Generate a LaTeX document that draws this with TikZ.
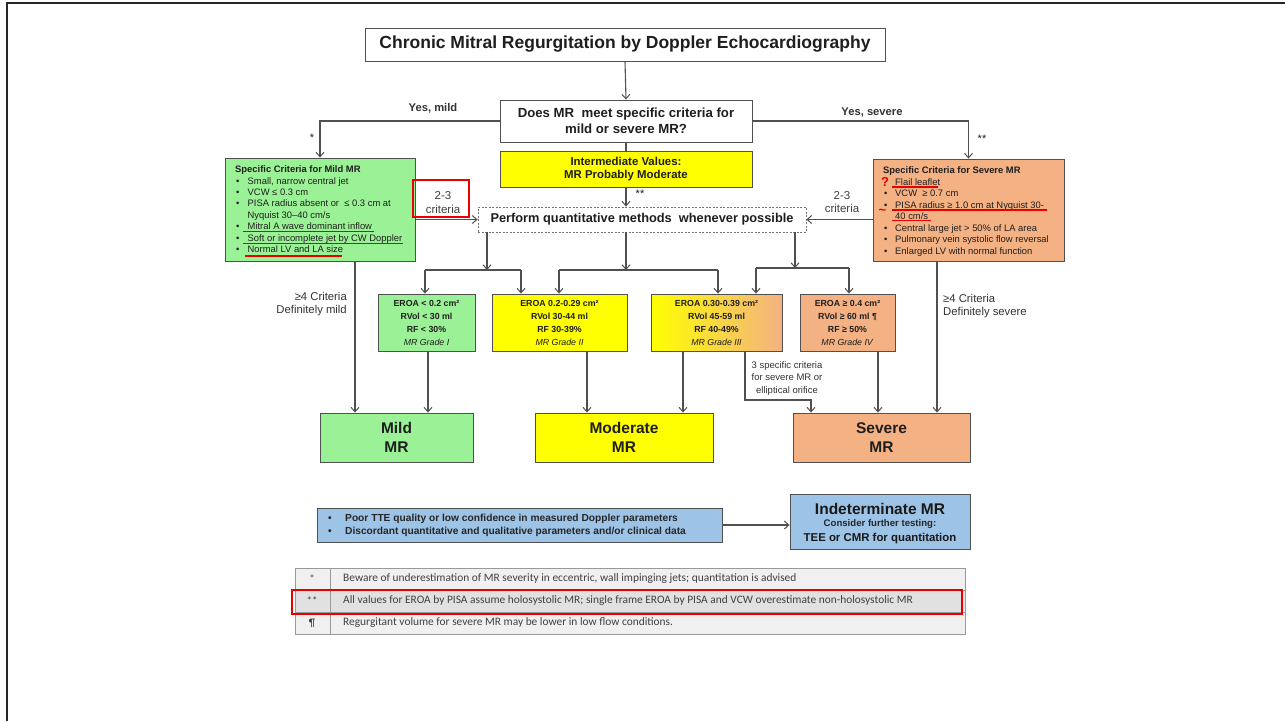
\documentclass[tikz,border=0pt]{standalone}
\usepackage{fontspec}
\setmainfont{Liberation Sans}
\newfontfamily\calib{Carlito}
\usetikzlibrary{arrows.meta,fit,calc}
\definecolor{mildg}{RGB}{155,242,150}
\definecolor{modyel}{RGB}{255,255,0}
\definecolor{sevor}{RGB}{244,177,131}
\definecolor{bluebx}{RGB}{157,195,230}
\definecolor{edge}{RGB}{80,80,80}
\definecolor{ink}{RGB}{30,30,30}
\definecolor{redmark}{RGB}{235,0,0}
\definecolor{tblbg}{RGB}{240,240,240}
\definecolor{tblmid}{RGB}{225,225,225}
\newcommand{\mybul}{\makebox[12.5pt][l]{\hspace{1pt}•}}
\newcommand{\fs}[2]{\fontsize{#1}{#2}\selectfont}
\tikzset{
  box/.style={draw=edge, line width=0.9pt, inner sep=0pt},
  conn/.style={draw=edge, line width=1.1pt},
  arr/.style={conn, -{Straight Barb[length=4.5pt,width=8pt,line width=1pt]}},
  lbl/.style={inner sep=0pt, text=ink},
  ctr/.style={lbl, align=center},
  redline/.style={draw=redmark, line width=1.4pt},
}
\begin{document}
\begin{tikzpicture}[x=1pt,y=-1pt]
\useasboundingbox[fill=white] (0,0) rectangle (1285,721);
% frame
\draw[line width=2.5pt, black!85] (7,721) -- (7,3) -- (1285,3);

% title and question
\node[box, fill=white, fit={(365,28) (885,61)}] (title) {};
\node[ctr, font=\fs{17.5}{20}\bfseries] (titlet) at (title.center) {Chronic Mitral Regurgitation by Doppler Echocardiography};
\node[box, fill=white, fit={(500,100) (752,142)}] (q) {};
\node[ctr, font=\fs{13.2}{16}\bfseries] (qt) at (q.center) {Does MR\ \ meet specific criteria for\\mild or severe MR?};
\node[box, fill=modyel, fit={(500,151) (752,187)}] (inter) {};
\node[ctr, font=\fs{11.4}{13.5}\bfseries] (intert) at (inter.center) {Intermediate Values:\\MR Probably Moderate};
\node[box, draw=edge!80, dash pattern=on 2pt off 1.5pt, fill=white, fit={(478,207) (806,232)}] (perf) {};
\node[ctr, font=\fs{12.8}{14}\bfseries] (perft) at (perf.center) {Perform quantitative methods\ \ whenever possible};

% criteria boxes
\node[box, fill=mildg, fit={(225,158) (415,261)}] (mild) {};
\node[lbl, anchor=north west, align=left, font=\fs{9.4}{11.45}] (mildtxt) at (235,165.6)
 {\textbf{Specific Criteria for Mild MR}\\
  \mybul Small, narrow central jet\\
  \mybul VCW ≤ 0.3 cm\\
  \mybul PISA radius absent or\ \ ≤ 0.3 cm at\\
  \hspace*{12.5pt}Nyquist 30–40 cm/s\\
  \mybul Mitral A wave dominant inflow\\
  \mybul Soft or incomplete jet by CW Doppler\\
  \mybul Normal LV and LA size};
\node[box, fill=sevor, fit={(873,159) (1064,261)}] (sev) {};
\node[lbl, anchor=north west, align=left, font=\fs{9.4}{11.55}] (sevtxt) at (883,166.6)
 {\textbf{Specific Criteria for Severe MR}\\
  \hspace*{12pt}Flail leaflet\\
  \makebox[12pt][l]{\hspace{1pt}•}VCW\ \ ≥ 0.7 cm\\
  \makebox[12pt][l]{\hspace{1pt}•}PISA radius ≥ 1.0 cm at Nyquist 30-\\
  \hspace*{12pt}40 cm/s\\
  \makebox[12pt][l]{\hspace{1pt}•}Central large jet > 50\% of LA area\\
  \makebox[12pt][l]{\hspace{1pt}•}Pulmonary vein systolic flow reversal\\
  \makebox[12pt][l]{\hspace{1pt}•}Enlarged LV with normal function};

% red annotations
\draw[redline] (243,231.5) -- (374,231.5);
\draw[redline] (243,243.3) -- (403,243.3);
\draw[redline] (245,256) -- (342,256);
\draw[redline] (892,187) -- (938,187);
\draw[redline] (892,210) -- (1047,210);
\draw[redline] (892,220.5) -- (931,220.5);
\node[lbl, text=redmark, font=\fs{13}{13}\bfseries] (qmark) at (885,181.5) {?};
\node[lbl, text=redmark, font=\fs{13}{13}\bfseries] (tilde) at (882.5,212) {\textasciitilde};
\node[draw=redmark, line width=2.6pt, fit={(413,180) (469,217)}, inner sep=0pt] (redbox) {};

% labels on top connectors
\node[lbl, font=\fs{11.2}{13}\bfseries, text=black!80] (yesmild) at (433,108) {Yes, mild};
\node[lbl, font=\fs{11.2}{13}\bfseries, text=black!80] (yessev) at (872,113) {Yes, severe};
\node[lbl, font=\fs{11}{11}] (star1) at (312,138) {*};
\node[lbl, font=\fs{11}{11}] (star2) at (982,139) {**};
\node[lbl, font=\fs{11}{11}] (star3) at (640,194) {**};
\node[ctr, font=\fs{11.5}{13.5}, text=black!75] (crit1) at (443,202.5) {2-3\\criteria};
\node[ctr, font=\fs{11.5}{13.5}, text=black!75] (crit2) at (842,202) {2-3\\criteria};

% connectors top
\draw[arr] (title.south) -- (q.north);
\draw[conn] (q.south) -- (inter.north);
\draw[arr] (inter.south) -- (inter.south |- perf.north);
\draw[arr] (q.west) -| (mild.north);
\draw[arr] (q.east) -| (sev.north);
\draw[arr] (mild.east |- perf.west) -- (perf.west);
\draw[arr] (sev.west |- perf.east) -- (perf.east);

% grade boxes
\node[box, fill=mildg, fit={(378,294) (475,351)}] (g1) {};
\node[ctr, font=\fs{8.8}{13}] (g1t) at (g1.center)
 {\textbf{EROA < 0.2 cm²}\\\textbf{RVol < 30 ml}\\\textbf{RF < 30\%}\\\textit{MR Grade I}};
\node[box, fill=modyel, fit={(492,294) (627,351)}] (g2) {};
\node[ctr, font=\fs{8.8}{13}] (g2t) at (g2.center)
 {\textbf{EROA 0.2-0.29 cm²}\\\textbf{RVol 30-44 ml}\\\textbf{RF 30-39\%}\\\textit{MR Grade II}};
\node[box, left color=modyel, right color=sevor, fit={(651,294) (782,351)}] (g3) {};
\node[ctr, font=\fs{8.8}{13}] (g3t) at (g3.center)
 {\textbf{EROA 0.30-0.39 cm²}\\\textbf{RVol 45-59 ml}\\\textbf{RF 40-49\%}\\\textit{MR Grade III}};
\node[box, fill=sevor, fit={(800,294) (895,351)}] (g4) {};
\node[ctr, font=\fs{8.8}{13}] (g4t) at (g4.center)
 {\textbf{EROA ≥ 0.4 cm²}\\\textbf{RVol ≥ 60 ml ¶}\\\textbf{RF ≥ 50\%}\\\textit{MR Grade IV}};

% splitters below perform
\coordinate (j1) at (487,270);
\coordinate (a1) at (425,270);
\coordinate (a2) at (521,270);
\draw[arr] (perf.south -| j1) -- (j1);
\draw[conn] (a1) -- (a2);
\draw[arr] (a1) -- (a1 |- g1.north);
\draw[arr] (a2) -- (a2 |- g2.north);
\coordinate (j2) at (626,270);
\coordinate (b1) at (559,270);
\coordinate (b2) at (718,270);
\draw[arr] (perf.south -| j2) -- (j2);
\draw[conn] (b1) -- (b2);
\draw[arr] (b1) -- (b1 |- g2.north);
\draw[arr] (b2) -- (b2 |- g3.north);
\coordinate (j3) at (795,268);
\coordinate (c1) at (756,268);
\coordinate (c2) at (849,268);
\draw[arr] (perf.south -| j3) -- (j3);
\draw[conn, line width=2pt] (c1) -- (c2);
\draw[arr] (c1) -- (c1 |- g3.north);
\draw[arr] (c2) -- (c2 |- g4.north);

% outcome boxes
\node[box, fill=mildg, fit={(320,413) (473,462)}] (mildo) {};
\node[ctr, font=\fs{15.5}{19.5}\bfseries] (mildot) at (mildo.center) {Mild\\MR};
\node[box, fill=modyel, fit={(535,413) (713,462)}] (modo) {};
\node[ctr, font=\fs{15.5}{19.5}\bfseries] (modot) at (modo.center) {Moderate\\MR};
\node[box, fill=sevor, fit={(793,413) (970,462)}] (sevo) {};
\node[ctr, font=\fs{15.5}{19.5}\bfseries] (sevot) at (sevo.center) {Severe\\MR};

% down connectors
\coordinate (x1) at (355,0);
\coordinate (x2) at (428,0);
\coordinate (x3) at (587,0);
\coordinate (x4) at (683,0);
\coordinate (x5) at (745,0);
\coordinate (x6) at (811,0);
\coordinate (x7) at (878,0);
\coordinate (x8) at (937,0);
\coordinate (el) at (745,400);
\draw[arr] (mild.south -| x1) -- (mildo.north -| x1);
\draw[arr] (g1.south -| x2) -- (mildo.north -| x2);
\draw[arr] (g2.south -| x3) -- (modo.north -| x3);
\draw[arr] (g3.south -| x4) -- (modo.north -| x4);
\draw[arr] (g3.south -| x5) -- (el) -| (sevo.north -| x6);
\draw[arr] (g4.south -| x7) -- (sevo.north -| x7);
\draw[arr] (sev.south -| x8) -- (sevo.north -| x8);

\node[lbl, anchor=east, align=right, font=\fs{11.3}{13.5}, text=black!80] (def1) at (347,304) {≥4 Criteria\\Definitely mild};
\node[lbl, anchor=west, align=left, font=\fs{11.3}{13.5}, text=black!80] (def2) at (943,306) {≥4 Criteria\\Definitely severe};
\node[ctr, font=\fs{9.5}{12.5}, text=black!80] (three) at (787,378.5) {3 specific criteria\\for severe MR or\\elliptical orifice};

% indeterminate
\node[box, fill=bluebx, fit={(317,508) (722,542)}] (poor) {};
\node[lbl, anchor=west, align=left, font=\fs{10.2}{13}\bfseries, text=black!85] (poortxt) at (328,525)
 {\makebox[17pt][l]{•}Poor TTE quality or low confidence in measured Doppler parameters\\
  \makebox[17pt][l]{•}Discordant quantitative and qualitative parameters and/or clinical data};
\node[box, fill=bluebx, fit={(790,494) (970,549)}] (ind) {};
\node[lbl, text=black!90, font=\fs{15.5}{17}\bfseries] (ind1) at (880,509) {Indeterminate MR};
\node[lbl, text=black!85, font=\fs{9.6}{11}\bfseries] (ind2) at (880,524.5) {Consider further testing:};
\node[lbl, text=black!90, font=\fs{11.4}{13}\bfseries] (ind3) at (880,539) {TEE or CMR for quantitation};
\draw[arr] (poor.east) -- (poor.east -| ind.west);

% footnote table
\node[draw=black!40, line width=0.8pt, fill=tblbg, fit={(295,568) (965,634)}, inner sep=0pt] (tbl) {};
\fill[tblmid] (296,590) rectangle (964,612);
\draw[black!40, line width=0.8pt] (295,590) -- (965,590);
\draw[black!40, line width=0.8pt] (295,612) -- (965,612);
\draw[black!40, line width=0.8pt] (330,568) -- (330,634);
\node[lbl, font=\calib\fs{11}{11}, text=black!75] (s1) at (312,579) {*};
\node[lbl, font=\calib\fs{11}{11}, text=black!75] (s2) at (312,601) {**};
\node[lbl, font=\calib\fs{11}{11}, text=black!75] (s3) at (312,623) {¶};
\node[lbl, anchor=west, font=\calib\fs{11.4}{12}, text=black!75] (f1) at (343,579) {Beware of underestimation of MR severity in eccentric, wall impinging jets; quantitation is advised};
\node[lbl, anchor=west, font=\calib\fs{11.4}{12}, text=black!75] (f2) at (343,601) {All values for EROA by PISA assume holosystolic MR; single frame EROA by PISA and VCW overestimate non-holosystolic MR};
\node[lbl, anchor=west, font=\calib\fs{11.4}{12}, text=black!75] (f3) at (343,623) {Regurgitant volume for severe MR may be lower in low flow conditions.};
\node[draw=redmark, line width=2.6pt, fit={(292,590) (962,614)}, inner sep=0pt] (redrow) {};
\end{tikzpicture}
\end{document}
